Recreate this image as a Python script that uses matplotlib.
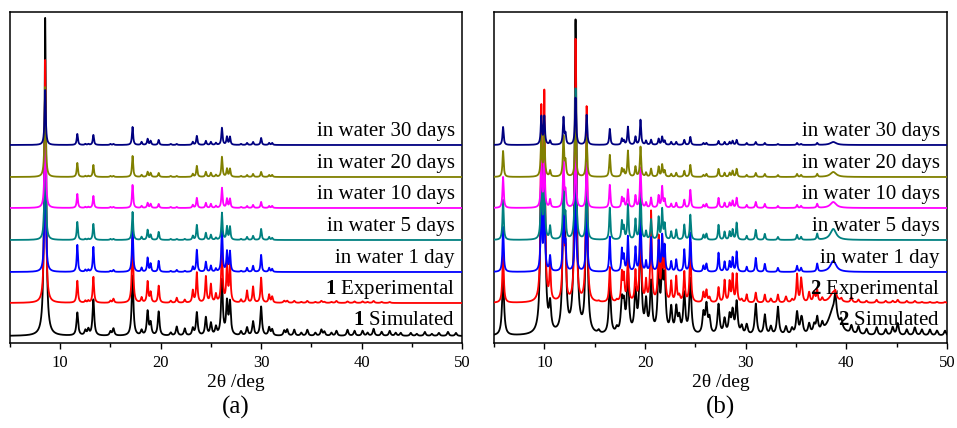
import numpy as np
import matplotlib.pyplot as plt

plt.rcParams['font.family'] = ['Liberation Serif', 'DejaVu Serif']
plt.rcParams['mathtext.fontset'] = 'custom'
plt.rcParams['mathtext.rm'] = 'Liberation Serif'
plt.rcParams['mathtext.bf'] = 'Liberation Serif:bold'

# ---- panel (a): compound 1, peak positions (deg) and heights per trace ----
pos1 = [8.5, 11.7, 12.5, 12.8, 13.3, 15.0, 15.3, 17.2, 18.1, 18.7, 19.0, 19.8, 21.0, 21.6, 22.4,
        23.2, 23.6, 24.5, 25.0, 25.5, 26.1, 26.6, 26.9, 28.0, 28.6, 29.2, 30.0, 30.8, 31.1]
sim1 = [318, 23, 5, 6, 36, 4, 7, 60, 5, 24, 12, 24, 3, 9, 7, 7, 23, 18, 12, 8, 55, 32, 32, 4, 8, 14, 29, 8, 6]
exp1 = [243, 22, 2, 2, 26, 2, 4, 70, 5, 21, 10, 17, 2, 5, 3, 12, 30, 26, 18, 8, 60, 36, 36, 3, 12, 16, 25, 8, 6]
d1_1 = [150, 27, 2, 2, 25, 1, 2, 45, 4, 14, 8, 11, 1, 2, 1, 5, 22, 10, 6, 3, 45, 20, 20, 1, 4, 6, 17, 4, 3]
d5_1 = [120, 18, 1, 1, 16, 1, 1, 28, 3, 10, 5, 8, 1, 1, 1, 4, 15, 7, 5, 2, 27, 13, 13, 1, 3, 4, 11, 3, 2]
d10_1 = [100, 14, 1, 1, 12, 1, 1, 23, 2, 5, 4, 4, 1, 1, 0, 3, 10, 5, 4, 2, 20, 9, 9, 1, 2, 3, 6, 2, 2]
d20_1 = [90, 14, 1, 1, 12, 1, 1, 21, 2, 5, 4, 4, 1, 1, 0, 3, 11, 5, 4, 2, 20, 8, 8, 1, 2, 3, 5, 2, 2]
d30_1 = [55, 11, 1, 1, 10, 1, 1, 18, 3, 6, 4, 5, 1, 1, 0, 3, 9, 4, 3, 2, 17, 8, 8, 1, 2, 3, 7, 2, 2]
# weak high-angle reflections
pos1_hi = [32.3, 32.6, 33.3, 34.0, 34.6, 35.4, 36.0, 36.3, 37.0, 37.5, 38.6, 39.3, 40.1,
           40.6, 41.2, 42.0, 42.8, 43.4, 43.9, 44.9, 45.5, 46.3, 47.0, 47.7, 48.6, 49.4]
sim1_hi = [5, 6, 6, 3, 6, 3, 6, 4, 3, 5, 6, 5, 5, 3, 7, 4, 5, 3, 3, 3, 2, 4, 2, 3, 4, 3]
exp1_hi = [2, 2, 2, 1, 2, 1, 2, 1, 1, 2, 1.5, 1.5, 1.5, 1, 2, 1, 1, 0, 0, 0, 0, 0, 0, 0, 0, 0]

# ---- panel (b): compound 2 ----
pos2 = [5.9, 9.7, 10.0, 10.57, 11.9, 12.1, 13.1, 14.2, 16.5, 17.7, 17.9, 18.3, 19.05, 19.55, 20.1,
        20.6, 21.35, 21.7, 21.95, 22.6, 23.1, 23.9, 24.5, 25.8, 26.1, 27.3, 27.9, 28.4, 28.7, 29.1,
        30.1, 31.0, 31.9, 33.2, 35.1, 35.5, 37.1, 38.7]
wid2 = [1] * 37 + [5]  # 38.7 reflection is broad
sim2 = [56, 150, 160, 26, 120, 60, 312, 150, 50, 30, 25, 60, 40, 100, 30, 50, 60, 55, 50, 25, 25,
        40, 55, 20, 28, 30, 15, 18, 22, 32, 10, 31, 20, 28, 22, 10, 15, 25]
exp2 = [52, 185, 200, 33, 120, 40, 262, 195, 35, 28, 25, 45, 30, 100, 20, 90, 63, 60, 50, 20, 25,
        30, 60, 10, 12, 15, 22, 20, 27, 28, 8, 10, 8, 8, 28, 20, 12, 10]
d1_2 = [45, 80, 80, 15, 70, 25, 100, 80, 35, 22, 15, 35, 24, 60, 10, 34, 30, 35, 25, 10, 12, 22, 39,
        6, 8, 19, 10, 10, 14, 20, 5, 14, 8, 4, 6, 4, 8, 11]
d5_2 = [40, 70, 70, 13, 60, 22, 151, 70, 32, 18, 12, 35, 20, 55, 8, 20, 22, 30, 15, 8, 10, 15, 25,
        5, 6, 15, 8, 8, 10, 17, 4, 10, 6, 3, 5, 3, 6, 11]
d10_2 = [31, 45, 45, 8, 45, 15, 60, 45, 23, 10, 8, 18, 12, 40, 5, 10, 12, 21, 8, 4, 5, 8, 18, 3, 4,
         10, 5, 5, 7, 10, 3, 6, 4, 2, 3, 2, 4, 6]
d20_2 = [26, 40, 40, 6, 40, 14, 55, 40, 22, 8, 6, 26, 10, 30, 4, 8, 10, 12, 6, 3, 4, 6, 12, 2, 3, 8,
         4, 4, 6, 8, 2, 4, 3, 2, 3, 2, 3, 5]
d30_2 = [18, 28, 28, 4, 27, 10, 47, 30, 16, 6, 4, 18, 8, 25, 4, 5, 6, 8, 4, 3, 3, 5, 8, 2, 2, 4, 3,
         3, 4, 5, 2, 3, 2, 1, 2, 1, 2, 3]
pos2_hi = [15.4, 17.2, 23.4, 26.4, 29.6, 32.5, 34.0, 34.6, 35.6, 36.3, 36.8, 37.6, 38.9, 39.5, 40.5,
           41.2, 42.0, 43.0, 43.9, 44.6, 45.1, 46.0, 46.8, 47.5, 48.3, 49.0, 49.8]
sim2_hi = [3, 5, 15, 15, 8, 8, 8, 6, 10, 10, 8, 8, 20, 8, 8, 8, 6, 8, 6, 8, 12, 6, 8, 6, 6, 5, 5]
exp2_hi = [1, 2, 6, 5, 3, 4, 6, 3, 8, 10, 10, 4, 5, 3, 5, 3, 2, 3, 2, 2, 3, 2, 2, 1, 1, 1, 1]

labels1 = ['$\\mathbf{1}$ Simulated', '$\\mathbf{1}$ Experimental', 'in water 1 day', 'in water 5 days',
           'in water 10 days', 'in water 20 days', 'in water 30 days']
labels2 = ['$\\mathbf{2}$ Simulated', '$\\mathbf{2}$ Experimental', 'in water 1 day', 'in water 5 days',
           'in water 10 days', 'in water 20 days', 'in water 30 days']
offsets = [0, 33, 64, 96, 128, 159, 191]
colors = ['black', '#ff0000', '#0000ff', '#008080', '#ff00ff', '#808000', '#000080']

x = np.linspace(5, 50, 9001)


def pattern(pos, hts, w, widths=None):
    y = np.zeros_like(x)
    for i, (p, h) in enumerate(zip(pos, hts)):
        ww = w * (widths[i] if widths else 1)
        y += h / (1 + ((x - p) / ww) ** 2)
    return y


curves1 = [pattern(pos1, sim1, 0.1) + pattern(pos1_hi, sim1_hi, 0.1),
           pattern(pos1, exp1, 0.08) + pattern(pos1_hi, exp1_hi, 0.1),
           pattern(pos1, d1_1, 0.07), pattern(pos1, d5_1, 0.07), pattern(pos1, d10_1, 0.07),
           pattern(pos1, d20_1, 0.07), pattern(pos1, d30_1, 0.07)]
curves2 = [pattern(pos2, sim2, 0.12, wid2) + pattern(pos2_hi, sim2_hi, 0.12),
           pattern(pos2, exp2, 0.08, wid2) + pattern(pos2_hi, exp2_hi, 0.1),
           pattern(pos2, d1_2, 0.07, wid2), pattern(pos2, d5_2, 0.07, wid2), pattern(pos2, d10_2, 0.07, wid2),
           pattern(pos2, d20_2, 0.07, wid2), pattern(pos2, d30_2, 0.07, wid2)]

fig = plt.figure(figsize=(9.57, 4.28), dpi=100)
ax1 = fig.add_axes([0.01045, 0.1986, 0.4723, 0.7734])
ax2 = fig.add_axes([0.5162, 0.1986, 0.4734, 0.7734])

for ax, curves, labels, tag in [(ax1, curves1, labels1, '(a)'), (ax2, curves2, labels2, '(b)')]:
    for i, c in enumerate(curves):
        ax.plot(x, c + offsets[i], color=colors[i], lw=1.3, zorder=2 + i)
        ax.text(49.3, offsets[i] + (11 if i == 0 else 9), labels[i], ha='right', va='baseline',
                fontsize=15, zorder=20)
    ax.set_xlim(5, 50)
    ax.set_ylim(-7, 324)
    ax.set_yticks([])
    ax.set_xticks([10, 20, 30, 40, 50])
    ax.set_xticks([5, 15, 25, 35, 45], minor=True)
    ax.tick_params(axis='x', which='major', direction='out', length=4, width=1, labelsize=12, pad=5)
    ax.tick_params(axis='x', which='minor', direction='out', length=3, width=1)
    for s in ax.spines.values():
        s.set_linewidth(1.1)
    ax.set_xlabel('2θ /deg', fontsize=14, labelpad=2)
    ax.text(0.5, -0.195, tag, transform=ax.transAxes, ha='center', va='center', fontsize=18)

fig.savefig('out.png', dpi=100)
